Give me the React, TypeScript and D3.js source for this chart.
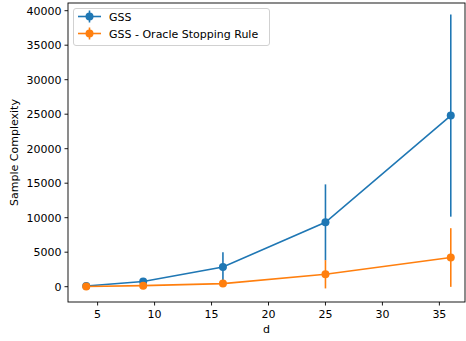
import React from 'react';
import * as d3 from 'd3';

// dimension d on the x axis
const dims = [4, 9, 16, 25, 36];

// mean sample complexity and error (+/-) per series
const gssMean = [100, 750, 2850, 9330, 24800];
const gssErr = [80, 300, 2150, 5500, 14650];
const oracleMean = [40, 150, 450, 1800, 4230];
const oracleErr = [30, 80, 200, 2050, 4250];

const xTicks = [5, 10, 15, 20, 25, 30, 35];
const yTicks = [0, 5000, 10000, 15000, 20000, 25000, 30000, 35000, 40000];

const series = [
  { name: 'GSS', mean: gssMean, err: gssErr, color: '#1f77b4' },
  { name: 'GSS - Oracle Stopping Rule', mean: oracleMean, err: oracleErr, color: '#ff7f0e' },
];

const W = 466;
const H = 341;
const plot = { left: 68, right: 465, top: 3, bottom: 302 };
const font = 'DejaVu Sans, sans-serif';
const fs = 11;

export default function App() {
  const x = d3.scaleLinear().domain([2.4, 37.6]).range([plot.left, 469]);
  const y = d3.scaleLinear().domain([-2217, 41116]).range([plot.bottom, plot.top]);

  const line = d3.line<number>()
    .x((_, i) => x(dims[i]))
    .y(d => y(d));

  return (
    <svg width={W} height={H} style={{ position: 'absolute', left: 0, top: 0, background: '#fff' }}>
      <defs>
        <clipPath id="plotclip">
          <rect x={plot.left} y={plot.top} width={plot.right - plot.left} height={plot.bottom - plot.top} />
        </clipPath>
      </defs>

      <g clipPath="url(#plotclip)">
        {series.map(s => (
          <g key={s.name}>
            <path d={line(s.mean) || ''} fill="none" stroke={s.color} strokeWidth={1.6} />
            {s.mean.map((m, i) => (
              <line key={'e' + i} x1={x(dims[i])} x2={x(dims[i])}
                y1={y(m - s.err[i])} y2={y(m + s.err[i])}
                stroke={s.color} strokeWidth={1.6} />
            ))}
            {s.mean.map((m, i) => (
              <circle key={'c' + i} cx={x(dims[i])} cy={y(m)} r={4} fill={s.color} />
            ))}
          </g>
        ))}
      </g>

      {/* axes frame */}
      <rect x={plot.left} y={plot.top} width={plot.right - plot.left} height={plot.bottom - plot.top}
        fill="none" stroke="#000" strokeWidth={0.9} />

      {/* x axis */}
      {xTicks.map(t => (
        <g key={t}>
          <line x1={x(t)} x2={x(t)} y1={plot.bottom} y2={plot.bottom + 3.5} stroke="#000" strokeWidth={0.9} />
          <text x={x(t)} y={plot.bottom + 16} fontSize={fs} fontFamily={font} textAnchor="middle" fill="#000">{t}</text>
        </g>
      ))}
      <text x={(plot.left + plot.right) / 2} y={333} fontSize={fs} fontFamily={font} textAnchor="middle">d</text>

      {/* y axis */}
      {yTicks.map(t => (
        <g key={t}>
          <line x1={plot.left - 3.5} x2={plot.left} y1={y(t)} y2={y(t)} stroke="#000" strokeWidth={0.9} />
          <text x={plot.left - 6.5} y={y(t) + 4} fontSize={fs} fontFamily={font} textAnchor="end">{t}</text>
        </g>
      ))}
      <text transform={`translate(17.5,${(plot.top + plot.bottom) / 2}) rotate(-90)`} fontSize={fs}
        fontFamily={font} textAnchor="middle">Sample Complexity</text>

      {/* legend */}
      <rect x={73.5} y={8.5} width={196} height={37} rx={2.5} fill="#fff" fillOpacity={0.8} stroke="#ccc" strokeWidth={0.9} />
      {series.map((s, i) => {
        const ly = 16.5 + i * 17;
        return (
          <g key={s.name}>
            <line x1={78} x2={101} y1={ly} y2={ly} stroke={s.color} strokeWidth={1.6} />
            <line x1={89.5} x2={89.5} y1={ly - 6} y2={ly + 6} stroke={s.color} strokeWidth={1.6} />
            <circle cx={89.5} cy={ly} r={4} fill={s.color} />
            <text x={109} y={ly + 4} fontSize={fs} fontFamily={font}>{s.name}</text>
          </g>
        );
      })}
    </svg>
  );
}
